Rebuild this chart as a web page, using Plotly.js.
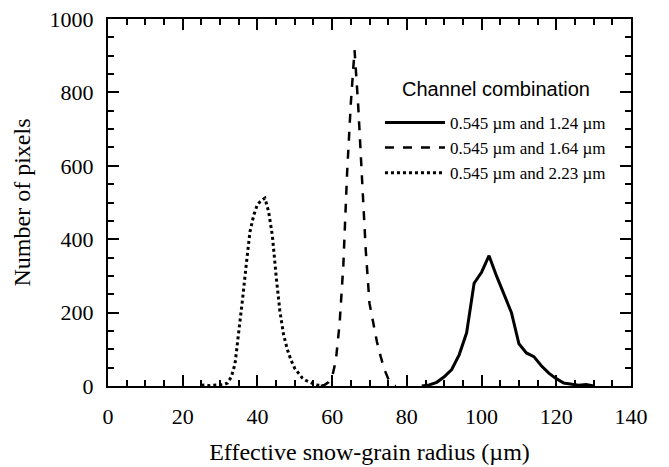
<!DOCTYPE html>
<html><head><meta charset="utf-8">
<script src="https://cdn.plot.ly/plotly-3.0.1.min.js"></script>
<style>html,body{margin:0;padding:0;background:#fff}#chart{width:669px;height:467px}</style>
</head><body><div id="chart"></div>
<script>
// Channel 0.545 µm and 1.24 µm
const radius124 = [84,86,88,90,92,94,96,98,100,102,104,106,108,110,112,114,116,118,120,122,124,126,128,130];
const pixels124 = [0,3,10,25,45,85,145,280,310,355,300,250,200,115,90,80,55,35,20,8,4,2,4,0];
// Channel 0.545 µm and 1.64 µm
const radius164 = [57,58,59,60,61,62,63,64,65,66,67,68,69,70,71,72,73,74,75,76,77];
const pixels164 = [0,3,10,25,70,170,330,580,770,915,760,560,370,225,170,120,80,45,20,5,0];
// Channel 0.545 µm and 2.23 µm
const radius223 = [25,26,27,28,29,30,31,32,33,34,35,36,37,38,39,40,41,42,43,44,45,46,47,48,49,50,51,52,53,54,55,56,57,58];
const pixels223 = [2,3,1,2,3,2,4,8,25,60,140,235,330,420,465,495,505,512,475,410,300,205,140,100,70,48,35,22,15,10,6,3,1,0];
const seriesNames = ["0.545 µm and 1.24 µm","0.545 µm and 1.64 µm","0.545 µm and 2.23 µm"];
const xTitle = "Effective snow-grain radius (µm)";
const yTitle = "Number of pixels";
const legendTitle = "Channel combination";

const serif = "Liberation Serif, Times New Roman, serif";
const traces = [
  {x: radius124, y: pixels124, name: seriesNames[0], mode: "lines", line: {color: "#000", width: 3, dash: "solid"}},
  {x: radius164, y: pixels164, name: seriesNames[1], mode: "lines", line: {color: "#000", width: 2.5, dash: "dash"}},
  {x: radius223, y: pixels223, name: seriesNames[2], mode: "lines", line: {color: "#000", width: 3, dash: "dot"}}
];
const axisCommon = {
  showgrid: false, zeroline: false, showline: true, linecolor: "#000", linewidth: 2,
  mirror: "ticks", ticks: "inside", ticklen: 11, tickwidth: 2, tickcolor: "#000",
  tickfont: {family: serif, size: 22, color: "#000"}
};
const layout = {
  width: 669, height: 467,
  margin: {l: 108, r: 38, t: 19, b: 81},
  paper_bgcolor: "#fff", plot_bgcolor: "#fff",
  showlegend: true,
  xaxis: Object.assign({}, axisCommon, {
    range: [0, 140], dtick: 20, tick0: 0, ticklabelstandoff: 10,
    minor: {dtick: 5, ticks: "inside", ticklen: 6, tickwidth: 2, tickcolor: "#000"},
    title: {text: xTitle, font: {family: serif, size: 24, color: "#000"}, standoff: 15}
  }),
  yaxis: Object.assign({}, axisCommon, {
    range: [0, 1000], dtick: 200, tick0: 0, ticklabelstandoff: 8,
    minor: {dtick: 50, ticks: "inside", ticklen: 6, tickwidth: 2, tickcolor: "#000"},
    title: {text: yTitle, font: {family: serif, size: 24, color: "#000"}, standoff: 12}
  }),
  legend: {
    x: 0.52, y: 0.766, xanchor: "left", yanchor: "top",
    bgcolor: "rgba(0,0,0,0)", borderwidth: 0,
    font: {family: serif, size: 17, color: "#000"},
    tracegroupgap: 0, itemwidth: 60
  },
  annotations: [{
    text: legendTitle, xref: "paper", yref: "paper", x: 0.742, y: 0.81,
    xanchor: "center", yanchor: "middle", showarrow: false,
    font: {family: "Liberation Sans, Arial, sans-serif", size: 20, color: "#000"}
  }]
};
Plotly.newPlot("chart", traces, layout, {displayModeBar: false, staticPlot: true});
</script></body></html>
